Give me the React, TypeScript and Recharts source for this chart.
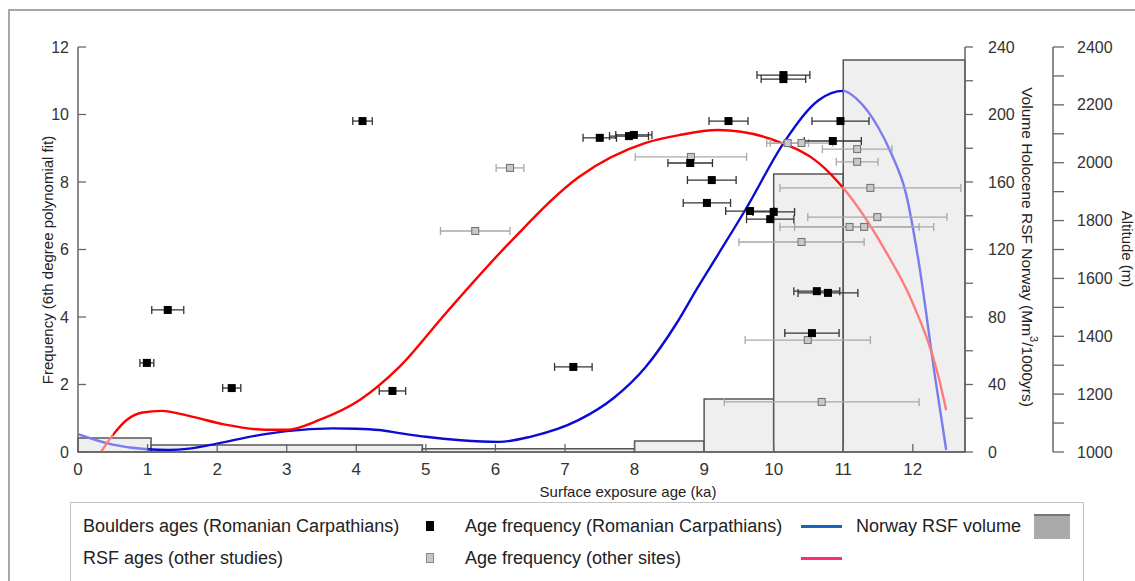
import React from "react";
import {
  ComposedChart,
  ErrorBar,
  Line,
  ReferenceArea,
  Scatter,
  XAxis,
  YAxis,
} from "recharts";

// tick labels
const ageTicks = [0, 1, 2, 3, 4, 5, 6, 7, 8, 9, 10, 11, 12];
const freqTicks = [0, 2, 4, 6, 8, 10, 12];
const volumeTicks = [0, 20, 40, 60, 80, 100, 120, 140, 160, 180, 200, 220, 240];
const volumeLabels = [0, 40, 80, 120, 160, 200, 240];
const altitudeTicks = [1000, 1100, 1200, 1300, 1400, 1500, 1600, 1700, 1800, 1900, 2000, 2100, 2200, 2300, 2400];
const altitudeLabels = [1000, 1200, 1400, 1600, 1800, 2000, 2200, 2400];

// Norway RSF volume histogram (Mm3/1000yrs)
const binStart = [0, 1.05, 4.95, 8, 9, 10, 11];
const binEnd = [1.05, 4.95, 8, 9, 10, 11, 12.75];
const binVolume = [8.3, 4.1, 2, 6.5, 31.4, 164.7, 232.3];

// age frequency, Romanian Carpathians (blue)
const carpAge = [0, 0.5, 1.0, 1.3, 1.6, 2.0, 2.6, 3.0, 3.66, 4.0, 4.33, 4.62, 5.0, 5.5, 6.05, 6.5, 7.2, 7.7, 8.16, 8.6, 8.9, 9.2, 9.6, 10.17, 10.65, 11.0, 11.2, 11.5, 11.7, 11.9, 12.08, 12.32, 12.48];
const carpFreq = [0.53, 0.22, 0.08, 0.06, 0.1, 0.25, 0.5, 0.62, 0.7, 0.69, 0.65, 0.56, 0.45, 0.35, 0.3, 0.45, 0.95, 1.6, 2.52, 3.8, 4.85, 5.85, 7.2, 9.24, 10.43, 10.7, 10.45, 9.63, 8.8, 7.67, 5.69, 2.22, 0.06];

// age frequency, other sites (red)
const otherAge = [0.33, 0.5, 0.7, 0.93, 1.2, 1.65, 2.1, 2.7, 3.0, 3.47, 4.05, 4.62, 5.29, 6.24, 7.2, 8.16, 8.64, 9.2, 10.07, 10.65, 11.0, 11.6, 11.98, 12.37, 12.48];
const otherFreq = [0, 0.5, 0.95, 1.17, 1.22, 1.04, 0.82, 0.66, 0.66, 0.95, 1.54, 2.52, 4.12, 6.28, 8.15, 9.16, 9.39, 9.54, 9.19, 8.56, 7.82, 5.98, 4.5, 2.22, 1.24];

// boulder ages, Romanian Carpathians (black squares)
const boulderAge = [0.99, 1.29, 2.21, 4.09, 4.52, 7.12, 7.5, 7.92, 7.99, 8.8, 9.11, 9.04, 9.35, 10.14, 10.14, 10.96, 10.85, 9.66, 10.0, 9.95, 10.62, 10.78, 10.55];
const boulderAlt = [1308, 1491, 1221, 2144, 1211, 1294, 2086, 2092, 2096, 1999, 1940, 1861, 2144, 2303, 2289, 2144, 2075, 1833, 1830, 1805, 1556, 1550, 1411];
const boulderErr = [0.1, 0.23, 0.13, 0.14, 0.19, 0.27, 0.24, 0.28, 0.26, 0.32, 0.35, 0.34, 0.28, 0.38, 0.32, 0.41, 0.41, 0.35, 0.3, 0.34, 0.33, 0.43, 0.39];

// RSF ages, other studies (grey squares)
const rsfAge = [6.21, 5.71, 8.81, 10.2, 10.4, 11.2, 11.2, 11.39, 11.49, 11.09, 11.3, 10.4, 10.49, 10.69];
const rsfAlt = [1982, 1764, 2020, 2068, 2068, 2047, 2003, 1913, 1812, 1778, 1778, 1726, 1387, 1173];
const rsfErr = [0.2, 0.5, 0.8, 0.3, 0.45, 0.5, 0.3, 1.3, 1.0, 1.0, 1.0, 0.9, 0.9, 1.4];

const curve = (xs: number[], ys: number[]) => xs.map((age, i) => ({ age, freq: ys[i] }));
const points = (xs: number[], ys: number[], es: number[]) =>
  xs.map((age, i) => ({ age, alt: ys[i], err: es[i] }));

const carpCurve = curve(carpAge, carpFreq);
const otherCurve = curve(otherAge, otherFreq);
const boulders = points(boulderAge, boulderAlt, boulderErr);
const rsfAges = points(rsfAge, rsfAlt, rsfErr);

// where the curves fade (under the first and last histogram bins)
const offsetIn = (xs: number[], a: number) => (a - xs[0]) / (xs[xs.length - 1] - xs[0]);

const font = "'Liberation Sans', Arial, sans-serif";
const narrow = "'Liberation Sans Narrow', 'Liberation Sans', Arial, sans-serif";
const axisColor = "#666";
const textColor = "#333";

const LeftTick = ({ x, y, payload }: any) => (
  <g>
    <line x1={x} x2={x + 8} y1={y} y2={y} stroke={axisColor} strokeWidth={1.3} />
    <text x={x - 9} y={y} textAnchor="end" dominantBaseline="central" fontSize={16} fill={textColor} fontFamily={font}>
      {payload.value}
    </text>
  </g>
);

const BottomTick = ({ x, y, payload }: any) => (
  <g>
    <line x1={x} x2={x} y1={y} y2={y - 8} stroke={axisColor} strokeWidth={1.3} />
    <text x={x} y={y + 17} textAnchor="middle" dominantBaseline="central" fontSize={17} fill={textColor} fontFamily={narrow}>
      {payload.value}
    </text>
  </g>
);

const rightTick = (labels: number[], len: number, gap: number) => ({ x, y, payload }: any) => (
  <g>
    <line x1={x} x2={x + len} y1={y} y2={y} stroke={axisColor} strokeWidth={1.3} />
    {labels.includes(payload.value) && (
      <text x={x + gap} y={y} textAnchor="start" dominantBaseline="central" fontSize={16} fill={textColor} fontFamily={font}>
        {payload.value}
      </text>
    )}
  </g>
);

const blackSquare = (p: any) => <rect x={p.cx - 4} y={p.cy - 4} width={8} height={8} fill="#000" />;
const greySquare = (p: any) => (
  <rect x={p.cx - 3.5} y={p.cy - 3.5} width={7} height={7} fill="#c8c8c8" stroke="#707070" strokeWidth={1} />
);

const fadeStops = (xs: number[], from: number, to: number, dark: string, light: string) => {
  const a = offsetIn(xs, from);
  const b = offsetIn(xs, to);
  return [
    <stop key="0" offset={0} stopColor={light} />,
    <stop key="1" offset={a} stopColor={light} />,
    <stop key="2" offset={a} stopColor={dark} />,
    <stop key="3" offset={b} stopColor={dark} />,
    <stop key="4" offset={b} stopColor={light} />,
    <stop key="5" offset={1} stopColor={light} />,
  ];
};

const legendText: React.CSSProperties = {
  position: "absolute",
  fontFamily: font,
  fontSize: 18,
  color: "#222",
  whiteSpace: "nowrap",
  lineHeight: "22px",
  transform: "translateY(-50%)",
};

export default function App() {
  return (
    <div style={{ position: "absolute", left: 0, top: 0, width: 1135, height: 581, overflow: "hidden", background: "#fff" }}>
      <div style={{ position: "absolute", left: 8, top: 9, width: 1200, height: 700, border: "2px solid #a8a8a8" }} />
      <div style={{ position: "absolute", left: 0, top: 0 }}>
        <ComposedChart width={1135} height={581} margin={{ top: 47, right: 0, bottom: 84, left: 0 }}>
          <defs>
            <linearGradient id="blueFade" x1="0" y1="0" x2="1" y2="0">
              {fadeStops(carpAge, 1.0, 11.0, "#0b0bd2", "#7b7bef")}
            </linearGradient>
            <linearGradient id="redFade" x1="0" y1="0" x2="1" y2="0">
              {fadeStops(otherAge, 0.5, 11.0, "#ff0000", "#ff7a7a")}
            </linearGradient>
          </defs>
          <XAxis
            dataKey="age"
            type="number"
            domain={[0, 12.75]}
            allowDataOverflow
            ticks={ageTicks}
            height={45}
            tickSize={0}
            tickMargin={0}
            tickLine={false}
            axisLine={{ stroke: axisColor, strokeWidth: 1.5 }}
            tick={<BottomTick />}
            label={(p: any) => (
              <text x={628} y={p.viewBox.y + 39} textAnchor="middle" dominantBaseline="central" fontSize={15} fill="#222" fontFamily={font}>
                Surface exposure age (ka)
              </text>
            )}
          />
          <YAxis
            yAxisId="freq"
            type="number"
            domain={[0, 12]}
            allowDataOverflow
            ticks={freqTicks}
            width={78}
            tickSize={0}
            tickMargin={0}
            tickLine={false}
            axisLine={{ stroke: axisColor, strokeWidth: 1.5 }}
            tick={<LeftTick />}
            label={() => (
              <text x={47} y={260} transform="rotate(-90 47 260)" textAnchor="middle" dominantBaseline="central" fontSize={15} fill="#222" fontFamily={font}>
                Frequency (6th degree polynomial fit)
              </text>
            )}
          />
          <YAxis
            yAxisId="r1"
            orientation="right"
            type="number"
            domain={[0, 240]}
            allowDataOverflow
            ticks={volumeTicks}
            width={88}
            tickSize={0}
            tickMargin={0}
            tickLine={false}
            axisLine={{ stroke: axisColor, strokeWidth: 1.5 }}
            tick={rightTick(volumeLabels, 8, 23)}
            label={() => (
              <text x={1028} y={247} transform="rotate(90 1028 247)" textAnchor="middle" dominantBaseline="central" fontSize={15.5} fill="#222" fontFamily={font}>
                <tspan>Volume Holocene RSF Norway (Mm</tspan>
                <tspan dy={-6} fontSize={11}>3</tspan>
                <tspan dy={6}>/1000yrs)</tspan>
              </text>
            )}
          />
          <YAxis
            yAxisId="r2"
            dataKey="alt"
            orientation="right"
            type="number"
            domain={[1000, 2400]}
            allowDataOverflow
            ticks={altitudeTicks}
            width={82}
            tickSize={0}
            tickMargin={0}
            tickLine={false}
            axisLine={{ stroke: axisColor, strokeWidth: 1.5 }}
            tick={rightTick(altitudeLabels, 11, 24)}
            label={() => (
              <text x={1127} y={249} transform="rotate(90 1127 249)" textAnchor="middle" dominantBaseline="central" fontSize={15} fill="#222" fontFamily={font}>
                Altitude (m)
              </text>
            )}
          />

          {binVolume.map((v, i) => (
            <ReferenceArea
              key={i}
              yAxisId="r1"
              x1={binStart[i]}
              x2={binEnd[i]}
              y1={0}
              y2={v}
              fill="#efefef"
              fillOpacity={1}
              stroke="#555"
              strokeWidth={1.5}
              ifOverflow="visible"
            />
          ))}

          <Line yAxisId="freq" data={carpCurve} dataKey="freq" type="monotone" stroke="url(#blueFade)" strokeWidth={2.4} dot={false} isAnimationActive={false} />
          <Line yAxisId="freq" data={otherCurve} dataKey="freq" type="monotone" stroke="url(#redFade)" strokeWidth={2.4} dot={false} isAnimationActive={false} />

          <Scatter yAxisId="r2" data={rsfAges} dataKey="alt" shape={greySquare} isAnimationActive={false}>
            <ErrorBar dataKey="err" direction="x" width={4} stroke="#a8a8a8" strokeWidth={1.3} isAnimationActive={false} />
          </Scatter>
          <Scatter yAxisId="r2" data={boulders} dataKey="alt" shape={blackSquare} isAnimationActive={false}>
            <ErrorBar dataKey="err" direction="x" width={4} stroke="#333" strokeWidth={1.3} isAnimationActive={false} />
          </Scatter>
        </ComposedChart>
      </div>

      <div style={{ position: "absolute", left: 70, top: 502, width: 1012, height: 120, border: "1.5px solid #c4c4c4" }} />
      <span style={{ ...legendText, left: 83, top: 526 }}>Boulders ages (Romanian Carpathians)</span>
      <div style={{ position: "absolute", left: 426, top: 521, width: 8, height: 10, background: "#000" }} />
      <span style={{ ...legendText, left: 465, top: 526 }}>Age frequency (Romanian Carpathians)</span>
      <div style={{ position: "absolute", left: 801, top: 524.5, width: 41, height: 3, background: "#1565c0" }} />
      <span style={{ ...legendText, left: 856, top: 526 }}>Norway RSF volume</span>
      <div style={{ position: "absolute", left: 1034, top: 514, width: 36, height: 25, background: "#aaa", borderTop: "2px solid #777", boxSizing: "border-box" }} />
      <span style={{ ...legendText, left: 83, top: 558 }}>RSF ages (other studies)</span>
      <div style={{ position: "absolute", left: 426, top: 553, width: 8, height: 10, background: "#c8c8c8", border: "1px solid #888", boxSizing: "border-box" }} />
      <span style={{ ...legendText, left: 465, top: 558 }}>Age frequency (other sites)</span>
      <div style={{ position: "absolute", left: 801, top: 556.5, width: 41, height: 3, background: "#ff2d6f" }} />
    </div>
  );
}
